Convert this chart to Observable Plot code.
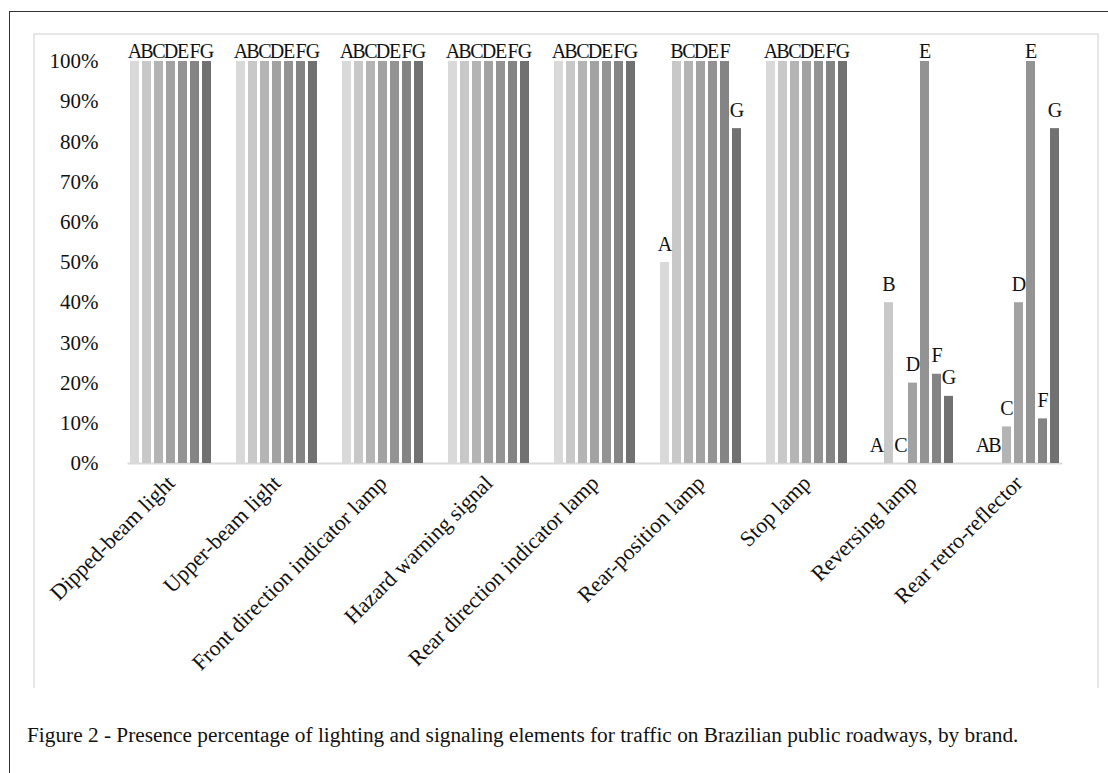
<!DOCTYPE html>
<html>
<head>
<meta charset="utf-8">
<script src="https://cdn.jsdelivr.net/npm/d3@7"></script>
<script src="https://cdn.jsdelivr.net/npm/@observablehq/plot@0.6"></script>
<style>
  html, body { margin: 0; padding: 0; background: #fff; }
  #wrap { position: relative; width: 1108px; height: 773px; overflow: hidden; background: #fff; }
  #chart { position: absolute; left: 0; top: 0; }
  .outer { position: absolute; left: 9px; top: 11px; width: 1200px; height: 900px; border-left: 1.5px solid #333; border-top: 1.5px solid #333; box-sizing: border-box; }
  .inner { position: absolute; left: 33px; top: 33px; width: 1066px; height: 655px; border-left: 2px solid #e6e6e6; border-top: 2px solid #e6e6e6; border-right: 2px solid #e6e6e6; box-sizing: border-box; }
  #caption { position: absolute; left: 27px; top: 723px; font-family: "Liberation Serif", "Times New Roman", serif; font-size: 21.3px; color: #111; white-space: nowrap; }
</style>
</head>
<body>
<div id="wrap">
  <div class="outer"></div>
  <div class="inner"></div>
  <div id="chart"></div>
  <div id="caption">Figure 2 - Presence percentage of lighting and signaling elements for traffic on Brazilian public roadways, by brand.</div>
</div>
<script>
const categories = [
  "Dipped-beam light",
  "Upper-beam light",
  "Front direction indicator lamp",
  "Hazard warning signal",
  "Rear direction indicator lamp",
  "Rear-position lamp",
  "Stop lamp",
  "Reversing lamp",
  "Rear retro-reflector"
];
const brands = ["A", "B", "C", "D", "E", "F", "G"];
const brandA = [100, 100, 100, 100, 100, 50, 100, 0, 0];
const brandB = [100, 100, 100, 100, 100, 100, 100, 40, 0];
const brandC = [100, 100, 100, 100, 100, 100, 100, 0, 9.1];
const brandD = [100, 100, 100, 100, 100, 100, 100, 20, 40];
const brandE = [100, 100, 100, 100, 100, 100, 100, 100, 100];
const brandF = [100, 100, 100, 100, 100, 100, 100, 22.2, 11.1];
const brandG = [100, 100, 100, 100, 100, 83.3, 100, 16.7, 83.3];
const yTicks = [0, 10, 20, 30, 40, 50, 60, 70, 80, 90, 100];
const grays = ["#d9d9d9", "#c8c8c8", "#b4b4b4", "#a2a2a2", "#939393", "#848484", "#717171"];

const series = [brandA, brandB, brandC, brandD, brandE, brandF, brandG];
const rows = [];
categories.forEach((c, i) => {
  brands.forEach((b, j) => {
    rows.push({category: c, brand: b, value: series[j][i]});
  });
});

const serif = "Liberation Serif, Times New Roman, serif";

const chart = Plot.plot({
  width: 1108,
  height: 773,
  marginTop: 61,
  marginBottom: 310,
  marginLeft: 116,
  marginRight: 36,
  style: {background: "transparent", fontFamily: serif},
  fx: {domain: categories, axis: null, paddingInner: 0.2, paddingOuter: 0.1},
  x: {domain: brands, axis: null, paddingInner: 0.25, paddingOuter: 0},
  y: {domain: [0, 100], axis: null},
  color: {domain: brands, range: grays},
  marks: [
    Plot.frame({anchor: "bottom", facet: "super", stroke: "#d9d9d9", strokeWidth: 2}),
    Plot.axisY({
      ticks: yTicks,
      tickFormat: d => d + "%",
      tickSize: 0,
      tickPadding: 30,
      line: true,
      stroke: "#d9d9d9",
      strokeWidth: 2,
      fill: "#111",
      fontSize: 21,
      label: null
    }),
    Plot.barY(rows, {fx: "category", x: "brand", y: "value", fill: "brand"}),
    Plot.text(rows.filter(d => d.value < 100), {
      fx: "category", x: "brand", y: "value", text: "brand",
      lineAnchor: "bottom", dy: -12, fill: "#111", fontSize: 20
    }),
    Plot.text(rows.filter(d => d.value >= 100), {
      fx: "category", x: "brand", y: "value", text: "brand",
      lineAnchor: "bottom", dy: -4, fill: "#111", fontSize: 20
    }),
    Plot.text(categories, {
      fx: d => d, text: d => d, frameAnchor: "bottom",
      rotate: -45, textAnchor: "end", lineAnchor: "middle",
      dx: 0, dy: 16, fill: "#111", fontSize: 22
    })
  ]
});
document.getElementById("chart").appendChild(chart);
</script>
</body>
</html>
